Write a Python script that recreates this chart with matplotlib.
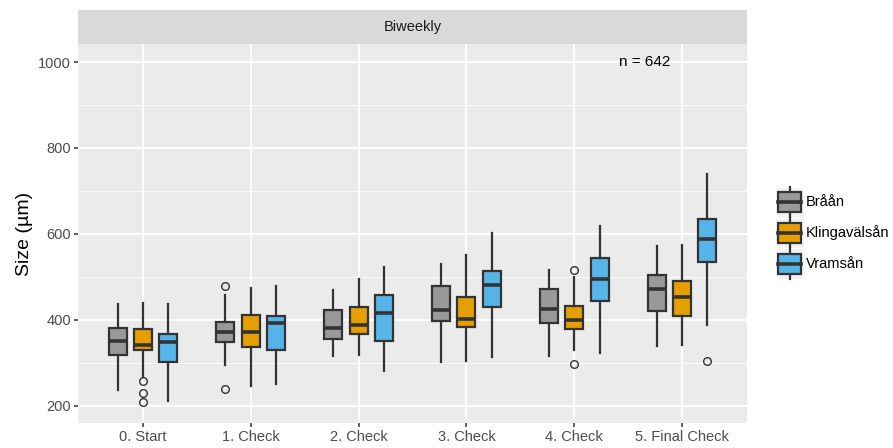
import matplotlib
matplotlib.use('Agg')
import matplotlib.pyplot as plt
from matplotlib.legend_handler import HandlerBase
from matplotlib.patches import Rectangle, Patch
from matplotlib.lines import Line2D

plt.rcParams.update({
    'font.family': ['Liberation Sans', 'DejaVu Sans'],
    'font.size': 10,
})

# categories and groups
categories = ['0. Start', '1. Check', '2. Check', '3. Check', '4. Check', '5. Final Check']
rivers = ['Bråån', 'Klingavälsån', 'Vramsån']
colors = ['#999999', '#E69F00', '#56B4E9']

# box statistics (whisker low, q1, median, q3, whisker high)
braan_lo = [236, 294, 317, 301, 315, 340]
braan_q1 = [319, 348, 356, 398, 392, 421]
braan_med = [350, 371, 382, 423, 426, 471]
braan_q3 = [382, 396, 423, 479, 473, 505]
braan_hi = [437, 457, 470, 530, 515, 572]
braan_out = [[], [479, 240], [], [], [], []]

kling_lo = [268, 245, 318, 305, 330, 341]
kling_q1 = [330, 338, 367, 384, 378, 408]
kling_med = [342, 371, 388, 402, 399, 454]
kling_q3 = [378, 412, 430, 454, 432, 490]
kling_hi = [440, 474, 495, 551, 499, 574]
kling_out = [[257, 230, 210], [], [], [], [516, 297], []]

vram_lo = [212, 250, 280, 313, 322, 387]
vram_q1 = [302, 329, 350, 431, 444, 534]
vram_med = [348, 392, 415, 481, 496, 588]
vram_q3 = [367, 410, 457, 514, 544, 635]
vram_hi = [437, 478, 522, 602, 619, 740]
vram_out = [[], [], [], [], [], [305]]

n_label = 'n = 642'

series = [
    (braan_lo, braan_q1, braan_med, braan_q3, braan_hi, braan_out),
    (kling_lo, kling_q1, kling_med, kling_q3, kling_hi, kling_out),
    (vram_lo, vram_q1, vram_med, vram_q3, vram_hi, vram_out),
]

edge = '#333333'
W, H = 893, 448
fig = plt.figure(figsize=(W / 100, H / 100), dpi=100)

ax = fig.add_axes([78 / W, 25 / H, 669 / W, 379 / H])
ax.set_facecolor('#EBEBEB')
for s in ax.spines.values():
    s.set_visible(False)

dodge = 0.7 / 3
box_w = 0.5 / 3
for j, (lo, q1, med, q3, hi, out) in enumerate(series):
    stats = []
    for i in range(len(categories)):
        stats.append({'whislo': lo[i], 'q1': q1[i], 'med': med[i], 'q3': q3[i],
                      'whishi': hi[i], 'fliers': out[i]})
    pos = [i + (j - 1) * dodge for i in range(len(categories))]
    ax.bxp(stats, positions=pos, widths=box_w, patch_artist=True, showcaps=False,
           manage_ticks=False,
           boxprops=dict(facecolor=colors[j], edgecolor=edge, linewidth=1.6),
           medianprops=dict(color=edge, linewidth=2.6, solid_capstyle='butt'),
           whiskerprops=dict(color=edge, linewidth=1.6),
           flierprops=dict(marker='o', markerfacecolor='none', markeredgecolor=edge,
                           markersize=5.5, markeredgewidth=1.0))

ax.text(4.65, 1000, n_label, ha='center', va='center', fontsize=11, color='black')

ax.set_xlim(-0.6, 5.6)
ax.set_ylim(160, 1042)
ax.set_xticks(range(len(categories)))
ax.set_xticklabels(categories)
ax.set_yticks([200, 400, 600, 800, 1000])
ax.set_yticks([300, 500, 700, 900], minor=True)
ax.grid(True, which='major', color='white', linewidth=1.3)
ax.grid(True, which='minor', axis='y', color='white', linewidth=0.6)
ax.set_axisbelow(True)
ax.tick_params(axis='both', which='major', direction='out', length=3, width=1.1,
               color=edge, labelcolor='#4D4D4D', labelsize=10.5, pad=2)
ax.tick_params(axis='both', which='minor', length=0)
ax.set_ylabel('Size (µm)', fontsize=14, labelpad=4)

# facet strip
strip = fig.add_axes([78 / W, 404 / H, 669 / W, 34 / H])
strip.set_facecolor('#D9D9D9')
strip.set_xticks([])
strip.set_yticks([])
for s in strip.spines.values():
    s.set_visible(False)
strip.text(0.5, 0.5, 'Biweekly', ha='center', va='center', fontsize=10.5,
           color='#1A1A1A', transform=strip.transAxes)


class BoxKey(HandlerBase):
    def create_artists(self, legend, orig_handle, xdescent, ydescent, width, height,
                       fontsize, trans):
        x0, y0 = -xdescent, -ydescent
        bg = Rectangle((x0, y0), width, height, facecolor='#F2F2F2',
                       edgecolor='white', linewidth=1, transform=trans)
        cx = x0 + width / 2
        cy = y0 + height / 2
        whisk = Line2D([cx, cx], [y0, y0 + height], color=edge, linewidth=1.6,
                       transform=trans)
        bw, bh = width * 0.82, height * 0.66
        box = Rectangle((cx - bw / 2, cy - bh / 2), bw, bh,
                        facecolor=orig_handle.get_facecolor(), edgecolor=edge,
                        linewidth=1.6, transform=trans)
        med = Line2D([cx - bw / 2, cx + bw / 2], [cy, cy], color=edge,
                     linewidth=2.6, transform=trans)
        return [bg, whisk, box, med]


handles = [Patch(facecolor=c) for c in colors]
fig.legend(handles, rivers, handler_map={Patch: BoxKey()},
           loc='center left', bbox_to_anchor=(776 / W, (H - 233) / H), frameon=False,
           handlelength=1.9, handleheight=2.89, handletextpad=0.15,
           labelspacing=0.0, borderpad=0, borderaxespad=0, fontsize=10.5)

fig.savefig('out.png', dpi=100, facecolor='white')
